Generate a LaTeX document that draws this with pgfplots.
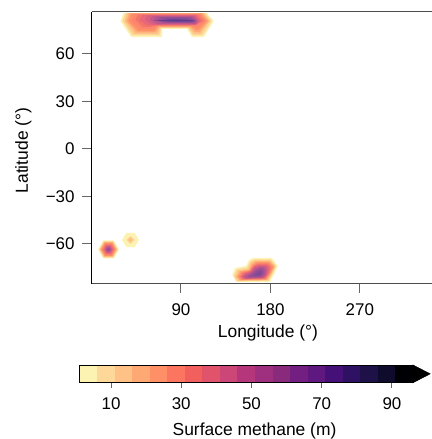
\documentclass[border=0pt]{standalone}
\usepackage{pgfplots}
\pgfplotsset{compat=1.18}
\usepackage{fontspec}
\setmainfont{Liberation Sans}
\definecolor{c1}{HTML}{FCF2B2}
\definecolor{c2}{HTML}{FDD898}
\definecolor{c3}{HTML}{FEC287}
\definecolor{c4}{HTML}{FEA873}
\definecolor{c5}{HTML}{FE8F66}
\definecolor{c6}{HTML}{FB7560}
\definecolor{c7}{HTML}{F1605D}
\definecolor{c8}{HTML}{E0536B}
\definecolor{c9}{HTML}{CC4678}
\definecolor{c10}{HTML}{B5367A}
\definecolor{c11}{HTML}{9F2F7F}
\definecolor{c12}{HTML}{8A2A7C}
\definecolor{c13}{HTML}{721F81}
\definecolor{c14}{HTML}{5F187F}
\definecolor{c15}{HTML}{451077}
\definecolor{c16}{HTML}{2F1163}
\definecolor{c17}{HTML}{1D1147}
\definecolor{c18}{HTML}{0F0B2C}
\definecolor{c19}{HTML}{000004}
% softened tones of the top levels, as the filled fields show them
\definecolor{d6}{HTML}{FC8570}
\definecolor{d7}{HTML}{F57468}
\definecolor{d8}{HTML}{E8687A}
\definecolor{d9}{HTML}{D85F84}
\definecolor{d10}{HTML}{C4588A}
\definecolor{d11}{HTML}{B0528E}
\definecolor{d12}{HTML}{9C4E92}
\definecolor{d13}{HTML}{8C4C96}
\definecolor{d14}{HTML}{7E4A98}
\definecolor{d15}{HTML}{5E3A8C}
\definecolor{tickgray}{HTML}{666666}
\begin{document}
\begin{tikzpicture}
\path[use as bounding box] (0,0) rectangle (432bp,439bp);
\begin{axis}[
  at={(91.5bp,155.3bp)}, anchor=south west,
  scale only axis, width=340.5bp, height=271.7bp,
  xmin=0, xmax=342.6, ymin=-85.1, ymax=86.3,
  axis x line*=box, axis y line*=left,
  axis line style={black, line width=1bp},
  x axis line style={black!70},
  xtick={90,180,270}, xticklabels={90,180,270},
  ytick={-60,-30,0,30,60}, yticklabels={−60,−30,0,30,60},
  xtick pos=bottom, ytick pos=left,
  tick align=outside, major tick length=9bp,
  tick style={tickgray, line width=1bp},
  tick label style={font=\fontsize{17}{19}\selectfont},
  xticklabel style={yshift=-7bp},
  yticklabel style={xshift=-4.5bp},
  label style={font=\fontsize{17.5}{20}\selectfont},
  xlabel={Longitude (°)}, ylabel={Latitude (°)},
  xlabel style={at={(axis description cs:0.518,-0.181)}, anchor=center},
  ylabel style={at={(axis description cs:-0.2,0.49)}, anchor=center, rotate=0},
  axis on top,
]
% north
\addplot[fill=c1,draw=none] coordinates {(32,85.65)(29,80.6)(40,70.5)(71,70.5)(71,75.6)(96,75.6)(101,70.5)(113,70.5)(123,80.6)(116,85.65)};
\addplot[fill=c2,draw=none] coordinates {(34,85.65)(31,80.6)(41,71.5)(69,71.5)(70,76.2)(97,76.2)(102,71.5)(112,71.5)(121,80.6)(115,85.65)};
\addplot[fill=c3,draw=none] coordinates {(36,85.65)(33,80.6)(43,72.4)(67,72.4)(69,76.5)(98,76.5)(103,72.4)(110,72.4)(119,80.6)(113,85.65)};
\addplot[fill=c4,draw=none] coordinates {(38,85.65)(35,80.6)(45,73.4)(65,73.4)(68,76.9)(99,76.9)(104,73.7)(109,73.7)(118,80.6)(112,85.65)};
\addplot[fill=c5,draw=none] coordinates {(40,85.3)(37,80.6)(47,74.3)(63,74.3)(67,77.2)(100,77.2)(105,75)(108,75)(116,80.6)(110,85.3)};
\addplot[fill=d6,draw=none] coordinates {(43,85)(40,80.6)(49,75.6)(61,75.6)(66,77.5)(101,77.5)(106,76.5)(115,80.6)(109,85)};
\addplot[fill=d7,draw=none] coordinates {(47,84.7)(44,81.2)(52,76.9)(59,76.9)(65,77.8)(103,77.8)(113,80.6)(107,84.7)};
\addplot[fill=d8,draw=none] coordinates {(51,84.4)(48,81.2)(56,77.8)(67,78.1)(105,78.1)(111,80.6)(105,84.4)};
\addplot[fill=d9,draw=none] coordinates {(56,84.1)(54,81.2)(61,78.4)(105,78.4)(109,80.6)(104,84.1)};
\addplot[fill=d10,draw=none] coordinates {(61,83.8)(59,81.2)(65,78.7)(105,78.7)(107,80.6)(103,83.8)};
\addplot[fill=d11,draw=none] coordinates {(65,83.4)(63,81.2)(69,79.1)(104,79.1)(106,80.9)(101,83.4)};
\addplot[fill=d12,draw=none] coordinates {(69,83.1)(67,81.2)(72,79.4)(103,79.4)(105,80.9)(99,83.1)};
\addplot[fill=d13,draw=none] coordinates {(73,82.7)(71,81.2)(75,79.7)(102,79.7)(104,80.9)(97,82.7)};
\addplot[fill=d14,draw=none] coordinates {(77,82.2)(74,81.05)(79,80)(101,80)(102,80.9)(95,82.2)};
\addplot[fill=d15,draw=none] coordinates {(62,80.8)(84,81.6)(99,81.2)(104,80.8)(97,80.4)(79,80.4)};
% south-west spots
\addplot[fill=c1,draw=none] coordinates {(6.6,-63.5)(11.8,-57.8)(22.4,-57.8)(27.6,-63.5)(22.4,-69.2)(11.8,-69.2)};
\addplot[fill=c2,draw=none] coordinates {(7.6,-63.5)(12.35,-58.3)(21.85,-58.3)(26.6,-63.5)(21.85,-68.7)(12.35,-68.7)};
\addplot[fill=c3,draw=none] coordinates {(8.4,-63.5)(12.75,-58.7)(21.45,-58.7)(25.8,-63.5)(21.45,-68.3)(12.75,-68.3)};
\addplot[fill=c4,draw=none] coordinates {(9.1,-63.5)(13.1,-59.1)(21.1,-59.1)(25.1,-63.5)(21.1,-67.9)(13.1,-67.9)};
\addplot[fill=c5,draw=none] coordinates {(9.9,-63.5)(13.5,-59.5)(20.7,-59.5)(24.3,-63.5)(20.7,-67.5)(13.5,-67.5)};
\addplot[fill=d6,draw=none] coordinates {(10.7,-63.5)(13.9,-60)(20.3,-60)(23.5,-63.5)(20.3,-67)(13.9,-67)};
\addplot[fill=d7,draw=none] coordinates {(11.5,-63.5)(14.3,-60.4)(19.9,-60.4)(22.7,-63.5)(19.9,-66.6)(14.3,-66.6)};
\addplot[fill=d8,draw=none] coordinates {(12.3,-63.5)(14.7,-60.9)(19.5,-60.9)(21.9,-63.5)(19.5,-66.1)(14.7,-66.1)};
\addplot[fill=d9,draw=none] coordinates {(13.1,-63.5)(15.1,-61.3)(19.1,-61.3)(21.1,-63.5)(19.1,-65.7)(15.1,-65.7)};
\addplot[fill=d10,draw=none] coordinates {(13.9,-63.5)(15.5,-61.7)(18.7,-61.7)(20.3,-63.5)(18.7,-65.3)(15.5,-65.3)};
\addplot[fill=d11,draw=none] coordinates {(14.7,-63.5)(15.9,-62.2)(18.3,-62.2)(19.5,-63.5)(18.3,-64.8)(15.9,-64.8)};
\addplot[fill=d12,draw=none] coordinates {(15.5,-63.5)(16.3,-62.6)(17.9,-62.6)(18.7,-63.5)(17.9,-64.4)(16.3,-64.4)};
\addplot[fill=c1,draw=none] coordinates {(30.7,-57.5)(35,-53)(43.4,-53)(47.7,-57.5)(43.4,-62)(35,-62)};
\addplot[fill=c2,draw=none] coordinates {(35.2,-57.5)(39.2,-54.9)(43.2,-57.5)(39.2,-60.1)};
\addplot[fill=c3,draw=none] coordinates {(36.7,-57.5)(39.2,-55.9)(41.7,-57.5)(39.2,-59.1)};
% south
\addplot[fill=c1,draw=none] coordinates {(141.5,-79.5)(144.5,-75.1)(155.5,-73.9)(158.5,-70.1)(162.5,-68.8)(181.5,-68.8)(187.5,-73.9)(184.5,-78.3)(179.5,-84)(145.5,-84)};
\addplot[fill=c2,draw=none] coordinates {(143,-80.2)(146,-76.1)(156.5,-74.8)(159.5,-71)(163.5,-69.8)(180.5,-69.8)(186,-73.9)(183,-78)(178.5,-83.3)(146.5,-83.7)};
\addplot[fill=c3,draw=none] coordinates {(144.5,-80.5)(147.5,-76.7)(157.5,-75.8)(160.5,-71.7)(164.5,-70.4)(179.5,-70.4)(185,-73.9)(182,-78)(177.5,-83)(147.5,-83.3)};
\addplot[fill=c4,draw=none] coordinates {(146,-80.8)(149,-77.3)(158.5,-76.4)(161.5,-72.6)(165.5,-71)(179,-71)(184,-74.2)(181,-78.3)(176.5,-82.7)(149.5,-83)};
\addplot[fill=c5,draw=none] coordinates {(147.5,-80.8)(150.5,-77.6)(159,-76.7)(162.5,-73.2)(166.5,-71.7)(178.5,-71.7)(183,-74.5)(180,-78.3)(175.5,-82.4)(150.5,-82.7)};
\addplot[fill=d6,draw=none] coordinates {(148.5,-80.8)(151.5,-78)(159.5,-77)(163,-73.6)(167,-72.3)(178,-72.3)(182,-74.5)(179.5,-78.3)(175,-82.1)(151.5,-82.4)};
\addplot[fill=d7,draw=none] coordinates {(149.5,-80.8)(152.5,-78.3)(159.5,-77)(163.5,-73.9)(167.5,-72.6)(177.5,-72.6)(180.5,-75.1)(178.5,-78.9)(174.5,-82.1)(152.5,-82.4)};
\addplot[fill=d8,draw=none] coordinates {(150.5,-80.8)(153.5,-78.6)(159.5,-77.3)(163.5,-74.2)(167.5,-73.2)(176.5,-73.2)(179.5,-75.1)(177.5,-78.9)(174,-81.8)(153.5,-82.1)};
\addplot[fill=d9,draw=none] coordinates {(151.5,-80.8)(154.5,-78.9)(160.5,-77.6)(164,-74.5)(168,-73.6)(175.5,-73.6)(178,-75.8)(176.5,-79.5)(173.5,-81.4)(154.5,-82.1)};
\addplot[fill=d10,draw=none] coordinates {(152.5,-80.8)(155.5,-79.2)(160.5,-78)(164.5,-75.1)(168.5,-74.2)(174.5,-74.2)(176.5,-76.4)(175.5,-79.5)(172.5,-81.4)(155.5,-81.8)};
\addplot[fill=d11,draw=none] coordinates {(154.5,-80.8)(160.5,-78.6)(165.5,-75.8)(169.5,-74.8)(173.5,-74.8)(175,-77)(174.5,-79.5)(171.5,-81.1)(157.5,-81.4)};
\addplot[fill=d12,draw=none] coordinates {(157.5,-80.5)(161.5,-78.9)(166.5,-76.4)(169.5,-75.4)(172.5,-75.4)(173.5,-77.6)(172.5,-79.5)(169.5,-80.8)(159.5,-81.1)};
\addplot[fill=d13,draw=none] coordinates {(160.5,-80.2)(163.5,-78.9)(167.5,-77)(170.5,-76.1)(172,-77.6)(171.5,-79.5)(167.5,-80.5)};
\addplot[fill=d14,draw=none] coordinates {(163.5,-79.9)(167.5,-78.3)(170.5,-77)(171.5,-78.3)(169.5,-79.9)};
\end{axis}
\begin{axis}[
  at={(79.4bp,56.3bp)}, anchor=south west,
  scale only axis, width=333.6bp, height=17.7bp,
  xmin=1, xmax=96, ymin=0, ymax=1,
  xtick={10,30,50,70,90}, xticklabels={10,30,50,70,90},
  ytick=\empty, xtick pos=bottom,
  tick align=outside, major tick length=5.5bp,
  tick style={tickgray, line width=1bp},
  axis line style={black, line width=0.8bp},
  tick label style={font=\fontsize{17}{19}\selectfont},
  xticklabel style={yshift=-6bp},
  xlabel={Surface methane (m)},
  label style={font=\fontsize{17.5}{20}\selectfont},
  xlabel style={at={(axis description cs:0.525,-2.73)}, anchor=center},
  clip=false, axis on top,
]
\addplot[fill=c1,draw=none] coordinates {(1,0)(6,0)(6,1)(1,1)};
\addplot[fill=c2,draw=none] coordinates {(6,0)(11,0)(11,1)(6,1)};
\addplot[fill=c3,draw=none] coordinates {(11,0)(16,0)(16,1)(11,1)};
\addplot[fill=c4,draw=none] coordinates {(16,0)(21,0)(21,1)(16,1)};
\addplot[fill=c5,draw=none] coordinates {(21,0)(26,0)(26,1)(21,1)};
\addplot[fill=c6,draw=none] coordinates {(26,0)(31,0)(31,1)(26,1)};
\addplot[fill=c7,draw=none] coordinates {(31,0)(36,0)(36,1)(31,1)};
\addplot[fill=c8,draw=none] coordinates {(36,0)(41,0)(41,1)(36,1)};
\addplot[fill=c9,draw=none] coordinates {(41,0)(46,0)(46,1)(41,1)};
\addplot[fill=c10,draw=none] coordinates {(46,0)(51,0)(51,1)(46,1)};
\addplot[fill=c11,draw=none] coordinates {(51,0)(56,0)(56,1)(51,1)};
\addplot[fill=c12,draw=none] coordinates {(56,0)(61,0)(61,1)(56,1)};
\addplot[fill=c13,draw=none] coordinates {(61,0)(66,0)(66,1)(61,1)};
\addplot[fill=c14,draw=none] coordinates {(66,0)(71,0)(71,1)(66,1)};
\addplot[fill=c15,draw=none] coordinates {(71,0)(76,0)(76,1)(71,1)};
\addplot[fill=c16,draw=none] coordinates {(76,0)(81,0)(81,1)(76,1)};
\addplot[fill=c17,draw=none] coordinates {(81,0)(86,0)(86,1)(81,1)};
\addplot[fill=c18,draw=none] coordinates {(86,0)(91,0)(91,1)(86,1)};
\addplot[fill=c19,draw=none] coordinates {(91,0)(96,0)(96,1)(91,1)};
\addplot[fill=black,draw=black,line width=0.5bp] coordinates {(96,0)(100.9,0.5)(96,1)} -- cycle;
\end{axis}
\end{tikzpicture}
\end{document}
